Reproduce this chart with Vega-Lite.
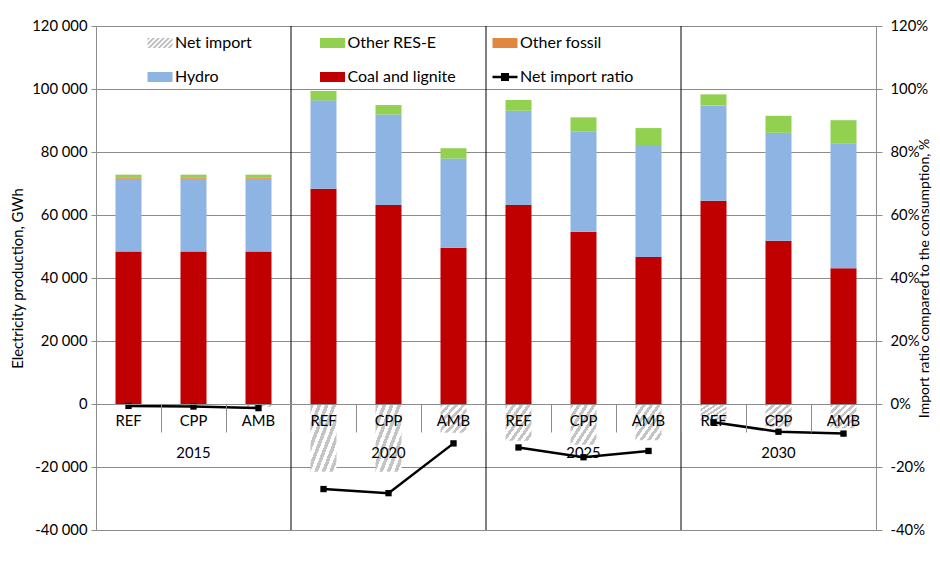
{
  "$schema": "https://vega.github.io/schema/vega-lite/v6.json",
  "width": 780,
  "height": 504,
  "autosize": {"type": "none"},
  "padding": {"left": 96, "top": 26, "right": 64, "bottom": 53},
  "background": "white",
  "config": {
    "font": "Lato",
    "view": {"stroke": null},
    "axis": {"labelFont": "Lato", "titleFont": "Lato", "labelColor": "#000", "titleColor": "#000", "titleFontWeight": "normal", "labelFontSize": 14.8, "titleFontSize": 14.8}
  },
  "datasets": {
    "gen": [
      {"year": "2015", "scenario": "REF", "cat": "2015 REF", "source": "Coal and lignite", "gwh": 48400},
      {"year": "2015", "scenario": "REF", "cat": "2015 REF", "source": "Hydro", "gwh": 23100},
      {"year": "2015", "scenario": "REF", "cat": "2015 REF", "source": "Other fossil", "gwh": 300},
      {"year": "2015", "scenario": "REF", "cat": "2015 REF", "source": "Other RES-E", "gwh": 1000},
      {"year": "2015", "scenario": "CPP", "cat": "2015 CPP", "source": "Coal and lignite", "gwh": 48400},
      {"year": "2015", "scenario": "CPP", "cat": "2015 CPP", "source": "Hydro", "gwh": 23100},
      {"year": "2015", "scenario": "CPP", "cat": "2015 CPP", "source": "Other fossil", "gwh": 300},
      {"year": "2015", "scenario": "CPP", "cat": "2015 CPP", "source": "Other RES-E", "gwh": 1000},
      {"year": "2015", "scenario": "AMB", "cat": "2015 AMB", "source": "Coal and lignite", "gwh": 48400},
      {"year": "2015", "scenario": "AMB", "cat": "2015 AMB", "source": "Hydro", "gwh": 23100},
      {"year": "2015", "scenario": "AMB", "cat": "2015 AMB", "source": "Other fossil", "gwh": 300},
      {"year": "2015", "scenario": "AMB", "cat": "2015 AMB", "source": "Other RES-E", "gwh": 1000},
      {"year": "2020", "scenario": "REF", "cat": "2020 REF", "source": "Coal and lignite", "gwh": 68300},
      {"year": "2020", "scenario": "REF", "cat": "2020 REF", "source": "Hydro", "gwh": 28100},
      {"year": "2020", "scenario": "REF", "cat": "2020 REF", "source": "Other fossil", "gwh": 0},
      {"year": "2020", "scenario": "REF", "cat": "2020 REF", "source": "Other RES-E", "gwh": 3000},
      {"year": "2020", "scenario": "CPP", "cat": "2020 CPP", "source": "Coal and lignite", "gwh": 63200},
      {"year": "2020", "scenario": "CPP", "cat": "2020 CPP", "source": "Hydro", "gwh": 28700},
      {"year": "2020", "scenario": "CPP", "cat": "2020 CPP", "source": "Other fossil", "gwh": 0},
      {"year": "2020", "scenario": "CPP", "cat": "2020 CPP", "source": "Other RES-E", "gwh": 3000},
      {"year": "2020", "scenario": "AMB", "cat": "2020 AMB", "source": "Coal and lignite", "gwh": 49600},
      {"year": "2020", "scenario": "AMB", "cat": "2020 AMB", "source": "Hydro", "gwh": 28300},
      {"year": "2020", "scenario": "AMB", "cat": "2020 AMB", "source": "Other fossil", "gwh": 0},
      {"year": "2020", "scenario": "AMB", "cat": "2020 AMB", "source": "Other RES-E", "gwh": 3300},
      {"year": "2025", "scenario": "REF", "cat": "2025 REF", "source": "Coal and lignite", "gwh": 63200},
      {"year": "2025", "scenario": "REF", "cat": "2025 REF", "source": "Hydro", "gwh": 29900},
      {"year": "2025", "scenario": "REF", "cat": "2025 REF", "source": "Other fossil", "gwh": 0},
      {"year": "2025", "scenario": "REF", "cat": "2025 REF", "source": "Other RES-E", "gwh": 3400},
      {"year": "2025", "scenario": "CPP", "cat": "2025 CPP", "source": "Coal and lignite", "gwh": 54700},
      {"year": "2025", "scenario": "CPP", "cat": "2025 CPP", "source": "Hydro", "gwh": 31900},
      {"year": "2025", "scenario": "CPP", "cat": "2025 CPP", "source": "Other fossil", "gwh": 0},
      {"year": "2025", "scenario": "CPP", "cat": "2025 CPP", "source": "Other RES-E", "gwh": 4400},
      {"year": "2025", "scenario": "AMB", "cat": "2025 AMB", "source": "Coal and lignite", "gwh": 46700},
      {"year": "2025", "scenario": "AMB", "cat": "2025 AMB", "source": "Hydro", "gwh": 35200},
      {"year": "2025", "scenario": "AMB", "cat": "2025 AMB", "source": "Other fossil", "gwh": 0},
      {"year": "2025", "scenario": "AMB", "cat": "2025 AMB", "source": "Other RES-E", "gwh": 5700},
      {"year": "2030", "scenario": "REF", "cat": "2030 REF", "source": "Coal and lignite", "gwh": 64500},
      {"year": "2030", "scenario": "REF", "cat": "2030 REF", "source": "Hydro", "gwh": 30300},
      {"year": "2030", "scenario": "REF", "cat": "2030 REF", "source": "Other fossil", "gwh": 0},
      {"year": "2030", "scenario": "REF", "cat": "2030 REF", "source": "Other RES-E", "gwh": 3500},
      {"year": "2030", "scenario": "CPP", "cat": "2030 CPP", "source": "Coal and lignite", "gwh": 51800},
      {"year": "2030", "scenario": "CPP", "cat": "2030 CPP", "source": "Hydro", "gwh": 34300},
      {"year": "2030", "scenario": "CPP", "cat": "2030 CPP", "source": "Other fossil", "gwh": 0},
      {"year": "2030", "scenario": "CPP", "cat": "2030 CPP", "source": "Other RES-E", "gwh": 5400},
      {"year": "2030", "scenario": "AMB", "cat": "2030 AMB", "source": "Coal and lignite", "gwh": 43100},
      {"year": "2030", "scenario": "AMB", "cat": "2030 AMB", "source": "Hydro", "gwh": 39500},
      {"year": "2030", "scenario": "AMB", "cat": "2030 AMB", "source": "Other fossil", "gwh": 0},
      {"year": "2030", "scenario": "AMB", "cat": "2030 AMB", "source": "Other RES-E", "gwh": 7500}
    ],
    "netimport": [
      {"year": "2015", "scenario": "REF", "cat": "2015 REF", "gwh": -300},
      {"year": "2015", "scenario": "CPP", "cat": "2015 CPP", "gwh": -400},
      {"year": "2015", "scenario": "AMB", "cat": "2015 AMB", "gwh": -900},
      {"year": "2020", "scenario": "REF", "cat": "2020 REF", "gwh": -21500},
      {"year": "2020", "scenario": "CPP", "cat": "2020 CPP", "gwh": -21500},
      {"year": "2020", "scenario": "AMB", "cat": "2020 AMB", "gwh": -9100},
      {"year": "2025", "scenario": "REF", "cat": "2025 REF", "gwh": -11700},
      {"year": "2025", "scenario": "CPP", "cat": "2025 CPP", "gwh": -12900},
      {"year": "2025", "scenario": "AMB", "cat": "2025 AMB", "gwh": -11500},
      {"year": "2030", "scenario": "REF", "cat": "2030 REF", "gwh": -5400},
      {"year": "2030", "scenario": "CPP", "cat": "2030 CPP", "gwh": -7400},
      {"year": "2030", "scenario": "AMB", "cat": "2030 AMB", "gwh": -7700}
    ],
    "ratio": [
      {"year": "2015", "scenario": "REF", "cat": "2015 REF", "ratio": -0.006},
      {"year": "2015", "scenario": "CPP", "cat": "2015 CPP", "ratio": -0.008},
      {"year": "2015", "scenario": "AMB", "cat": "2015 AMB", "ratio": -0.013},
      {"year": "2020", "scenario": "REF", "cat": "2020 REF", "ratio": -0.270},
      {"year": "2020", "scenario": "CPP", "cat": "2020 CPP", "ratio": -0.283},
      {"year": "2020", "scenario": "AMB", "cat": "2020 AMB", "ratio": -0.125},
      {"year": "2025", "scenario": "REF", "cat": "2025 REF", "ratio": -0.138},
      {"year": "2025", "scenario": "CPP", "cat": "2025 CPP", "ratio": -0.169},
      {"year": "2025", "scenario": "AMB", "cat": "2025 AMB", "ratio": -0.149},
      {"year": "2030", "scenario": "REF", "cat": "2030 REF", "ratio": -0.058},
      {"year": "2030", "scenario": "CPP", "cat": "2030 CPP", "ratio": -0.088},
      {"year": "2030", "scenario": "AMB", "cat": "2030 AMB", "ratio": -0.094}
    ]
  },
  "encoding": {
    "x": {
      "field": "cat",
      "type": "nominal",
      "sort": null,
      "scale": {
        "domain": ["2015 REF", "2015 CPP", "2015 AMB", "2020 REF", "2020 CPP", "2020 AMB", "2025 REF", "2025 CPP", "2025 AMB", "2030 REF", "2030 CPP", "2030 AMB"],
        "paddingInner": 0.6,
        "paddingOuter": 0.3
      },
      "axis": {
        "orient": "bottom",
        "offset": -126,
        "title": null,
        "labelAngle": 0,
        "bandPosition": -0.75,
        "tickSize": 28,
        "tickColor": "#8c8c8c",
        "domainColor": "#8c8c8c",
        "labelPadding": -19,
        "labelLineHeight": 32,
        "labelBaseline": "top",
        "labelAlign": "center",
        "labelExpr": "slice(datum.label,5)=='CPP' ? ['CPP', slice(datum.label,0,4)] : slice(datum.label,5)",
        "zindex": 1,
        "grid": false
      }
    }
  },
  "layer": [
    {
      "data": {"name": "gen"},
      "transform": [
        {"calculate": "indexof(['Coal and lignite','Hydro','Other fossil','Other RES-E'], datum.source)", "as": "ord"}
      ],
      "mark": {"type": "bar"},
      "encoding": {
        "y": {
          "field": "gwh",
          "type": "quantitative",
          "stack": "zero",
          "scale": {"domain": [-40000, 120000], "nice": false},
          "axis": {
            "orient": "left",
            "values": [-40000, -20000, 0, 20000, 40000, 60000, 80000, 100000, 120000],
            "labelExpr": "(datum.value<0?'-':'') + replace(format(abs(datum.value),','),',',' ')",
            "title": "Electricity production, GWh",
            "grid": true,
            "gridColor": "#8c8c8c",
            "domainColor": "#8c8c8c",
            "tickColor": "#8c8c8c",
            "tickSize": 5,
            "labelPadding": 4,
            "titlePadding": 6
          }
        },
        "color": {
          "field": "source",
          "type": "nominal",
          "scale": {
            "domain": ["Net import", "Other RES-E", "Other fossil", "Hydro", "Coal and lignite", "Net import ratio"],
            "range": ["#bcbcbc", "#92d050", "#e0883f", "#8eb4e3", "#c00000", "#000000"]
          },
          "legend": {
            "orient": "none",
            "legendX": 50,
            "legendY": 3,
            "direction": "horizontal",
            "columns": 3,
            "gridAlign": "all",
            "title": null,
            "labelFont": "Lato",
            "labelFontSize": 16,
            "labelColor": "#000",
            "labelLimit": 300,
            "symbolSize": 625,
            "symbolType": "M-1,-0.4H1V0.4H-1Z",
            "columnPadding": 25.5,
            "rowPadding": 10,
            "labelOffset": 1,
            "encode": {
              "symbols": {
                "update": {
                  "shape": {"signal": "datum.value==='Net import ratio' ? 'M-1,0H1M-0.22,-0.22H0.22V0.22H-0.22Z' : datum.value==='Net import' ? 'M-1,-0.4L-0.8,-0.4L-1,-0.2Z M-0.6,-0.4L-0.4,-0.4L-1,0.2L-1,0Z M-1,0.4L-0.8,0.4L0,-0.4L-0.2,-0.4Z M-0.6,0.4L-0.4,0.4L0.4,-0.4L0.2,-0.4Z M-0.2,0.4L0,0.4L0.8,-0.4L0.6,-0.4Z M0.2,0.4L0.4,0.4L1,-0.2L1,-0.4Z M0.6,0.4L0.8,0.4L1,0.2L1,0Z' : 'M-1,-0.4H1V0.4H-1Z'"},
                  "stroke": {"signal": "datum.value==='Net import ratio' ? '#000000' : 'transparent'"},
                  "strokeWidth": {"value": 2.5},
                  "opacity": {"value": 1}
                }
              }
            }
          }
        },
        "order": {"field": "ord", "type": "quantitative"}
      }
    },
    {
      "data": {"name": "netimport"},
      "mark": {
        "type": "bar",
        "fill": {"gradient": "linear", "x1": 0, "y1": 0, "x2": 1, "y2": 1, "stops": [
          {"offset": 0, "color": "#c4c4c4"}, {"offset": 0.0714, "color": "#c4c4c4"}, {"offset": 0.0714, "color": "#ffffff"}, {"offset": 0.1429, "color": "#ffffff"},
          {"offset": 0.1429, "color": "#c4c4c4"}, {"offset": 0.2143, "color": "#c4c4c4"}, {"offset": 0.2143, "color": "#ffffff"}, {"offset": 0.2857, "color": "#ffffff"},
          {"offset": 0.2857, "color": "#c4c4c4"}, {"offset": 0.3571, "color": "#c4c4c4"}, {"offset": 0.3571, "color": "#ffffff"}, {"offset": 0.4286, "color": "#ffffff"},
          {"offset": 0.4286, "color": "#c4c4c4"}, {"offset": 0.5, "color": "#c4c4c4"}, {"offset": 0.5, "color": "#ffffff"}, {"offset": 0.5714, "color": "#ffffff"},
          {"offset": 0.5714, "color": "#c4c4c4"}, {"offset": 0.6429, "color": "#c4c4c4"}, {"offset": 0.6429, "color": "#ffffff"}, {"offset": 0.7143, "color": "#ffffff"},
          {"offset": 0.7143, "color": "#c4c4c4"}, {"offset": 0.7857, "color": "#c4c4c4"}, {"offset": 0.7857, "color": "#ffffff"}, {"offset": 0.8571, "color": "#ffffff"},
          {"offset": 0.8571, "color": "#c4c4c4"}, {"offset": 0.9286, "color": "#c4c4c4"}, {"offset": 0.9286, "color": "#ffffff"}, {"offset": 1, "color": "#ffffff"}
        ]}
      },
      "encoding": {
        "y": {
          "field": "gwh",
          "type": "quantitative",
          "scale": {"domain": [-40000, 120000], "nice": false},
          "axis": null
        }
      }
    },
    {
      "data": {"name": "ratio"},
      "transform": [{"filter": "datum.scenario==='REF' && datum.year!=='2015'"}],
      "mark": {"type": "rule", "color": "#000000", "strokeWidth": 1},
      "encoding": {
        "x": {"field": "cat", "type": "nominal", "sort": null, "bandPosition": -0.75}
      }
    },
    {
      "data": {"name": "ratio"},
      "mark": {
        "type": "line",
        "color": "#000000",
        "strokeWidth": 2.5,
        "point": {"shape": "square", "size": 40, "filled": true, "color": "#000000"}
      },
      "encoding": {
        "y": {
          "field": "ratio",
          "type": "quantitative",
          "scale": {"domain": [-0.4, 1.2], "nice": false},
          "axis": {
            "orient": "right",
            "values": [-0.4, -0.2, 0, 0.2, 0.4, 0.6, 0.8, 1.0, 1.2],
            "labelExpr": "(datum.value<-0.0001?'-':'') + format(abs(datum.value),'.0%')",
            "title": "Import ratio compared to the consumption, %",
            "titleAngle": -90,
            "titleFontSize": 14,
            "grid": false,
            "domainColor": "#8c8c8c",
            "tickColor": "#8c8c8c",
            "tickSize": 6,
            "labelPadding": 8,
            "titlePadding": 4
          }
        },
        "detail": {"field": "year"}
      }
    }
  ],
  "resolve": {"scale": {"y": "independent"}}
}
